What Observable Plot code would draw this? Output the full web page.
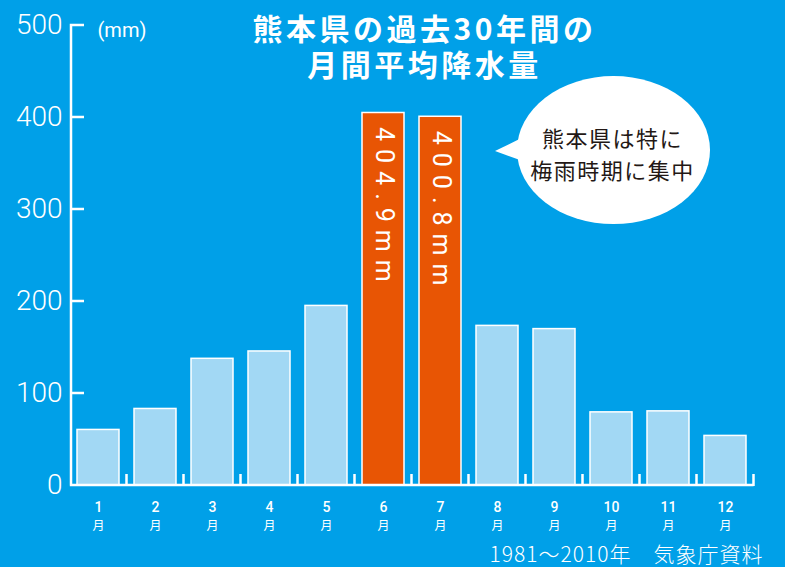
<!DOCTYPE html>
<html lang="ja">
<head>
<meta charset="utf-8">
<script src="https://cdn.jsdelivr.net/npm/d3@7"></script>
<script src="https://cdn.jsdelivr.net/npm/@observablehq/plot@0.6"></script>
<style>
  html, body { margin: 0; padding: 0; background: #00a0e8; }
  #chart { width: 785px; height: 567px; overflow: hidden; }
  g[aria-description="value-label"] text { letter-spacing: 8px; }
  g[aria-description="title"] text { letter-spacing: 3.5px; }
  g[aria-description="note"] text { letter-spacing: 1.5px; }
  g[aria-description="source"] text { letter-spacing: 1px; }
</style>
</head>
<body>
<div id="chart"></div>
<script>
// ---- data ----
const months = ["1", "2", "3", "4", "5", "6", "7", "8", "9", "10", "11", "12"];
const monthSuffix = "月";
const rainfall = [60.4, 83.2, 137.7, 145.7, 195.2, 404.9, 400.8, 173.5, 170.0, 79.5, 80.6, 53.9];
const highlightMonths = ["6", "7"];
const yTicks = [0, 100, 200, 300, 400, 500];
const unitLabel = "(mm)";
const titleLines = ["熊本県の過去30年間の", "月間平均降水量"];
const noteLines = ["熊本県は特に", "梅雨時期に集中"];
const noteMonth = "10";
const noteValue = 364;
const sourceText = "1981〜2010年　気象庁資料";

// ---- styles ----
const BG = "#00a0e8";
const LIGHT = "#a2d8f4";
const ORANGE = "#e85504";
const JP = "'Noto Sans CJK JP', 'Noto Sans', sans-serif";
const LATIN = "Roboto, 'Liberation Sans', sans-serif";

const data = months.map((m, i) => ({month: m, value: rainfall[i], hi: highlightMonths.includes(m)}));

const chart = Plot.plot({
  width: 785,
  height: 567,
  marginTop: 25,
  marginBottom: 82,
  marginLeft: 70,
  marginRight: 31,
  style: {background: BG, color: "white", fontFamily: LATIN, overflow: "visible"},
  x: {type: "band", domain: months, paddingInner: 0.26, paddingOuter: 0.13, axis: null},
  y: {domain: [0, 500], axis: null},
  marks: [
    Plot.barY(data.filter(d => !d.hi), {x: "month", y: "value", fill: LIGHT, stroke: "white", strokeWidth: 1.5}),
    Plot.barY(data.filter(d => d.hi), {x: "month", y: "value", fill: ORANGE, stroke: "white", strokeWidth: 1.5}),
    Plot.text(data.filter(d => d.hi), {
      x: "month", y: "value", text: d => d.value.toFixed(1) + "mm",
      rotate: 90, textAnchor: "start", lineAnchor: "middle", dy: 14, fontSize: 25, fill: "white",
      fontFamily: LATIN, ariaDescription: "value-label"
    }),
    // y tick labels
    Plot.text(yTicks, {y: d => d, text: d => String(d), frameAnchor: "left", textAnchor: "end",
      lineAnchor: "middle", dx: -8, fontSize: 28, fontWeight: 300, fill: "white", fontFamily: LATIN}),
    // unit label
    Plot.text([unitLabel], {frameAnchor: "top-left", textAnchor: "start", lineAnchor: "middle", dx: 27, dy: 5,
      fontSize: 20, fill: "white", fontFamily: LATIN}),
    // x labels
    Plot.text(months, {x: d => d, text: d => d, frameAnchor: "bottom", lineAnchor: "middle", dy: 22, fontSize: 14,
      fontWeight: 500, fill: "white", fontFamily: LATIN}),
    Plot.text(months, {x: d => d, text: () => monthSuffix, frameAnchor: "bottom", lineAnchor: "middle", dy: 40.5,
      fontSize: 12, fill: "white", fontFamily: JP}),
    // title
    Plot.text([titleLines.join("\n")], {frameAnchor: "top", lineAnchor: "middle", dx: 12, dy: 20.6, fontSize: 30,
      fontWeight: "bold", lineHeight: 1.2, fill: "white", fontFamily: JP, ariaDescription: "title"}),
    // note text (bubble drawn below it)
    Plot.text([noteLines.join("\n")], {x: () => noteMonth, y: () => noteValue, lineAnchor: "middle", dy: 2.6, dx: 1,
      fontSize: 22, lineHeight: 1.45, fill: "#231815", fontFamily: JP, ariaDescription: "note"}),
    // source
    Plot.text([sourceText], {frameAnchor: "bottom-right", textAnchor: "end", lineAnchor: "middle", dx: 9, dy: 70,
      fontSize: 21, fontWeight: 300, fill: "white", fontFamily: JP, ariaDescription: "source"})
  ]
});

document.getElementById("chart").appendChild(chart);

// ---- axis decorations and speech bubble, positioned via the plot's own scales ----
const X = chart.scale("x");
const Y = chart.scale("y");
const bw = X.bandwidth;
const gap = X.step - bw;
const left = X.apply(months[0]) - gap / 2 + 1.5;
const boundaries = months.map(m => X.apply(m) + bw + gap / 2);
const y0 = Y.apply(0);
const svg = d3.select(chart);

const axis = svg.append("g").attr("fill", "none").attr("stroke", "white").attr("stroke-width", 2.5);
let dPath = `M${left},${y0}V${Y.apply(yTicks[yTicks.length - 1])}H${left + 13}`;
yTicks.slice(1, -1).forEach(t => { dPath += `M${left},${Y.apply(t)}H${left + 13}`; });
dPath += `M${left - 1.2},${y0}H${boundaries[boundaries.length - 1]}`;
boundaries.forEach(b => { dPath += `M${b},${y0 + 1}V${y0 - 11}`; });
axis.append("path").attr("d", dPath);

const cx = X.apply(noteMonth) + bw / 2 + 2.5;
const cy = Y.apply(noteValue);
const noteNode = chart.querySelector('g[aria-description="note"]');
const bubbleNode = document.createElementNS("http://www.w3.org/2000/svg", "g");
if (noteNode) noteNode.parentNode.insertBefore(bubbleNode, noteNode); else chart.appendChild(bubbleNode);
const bubble = d3.select(bubbleNode).attr("fill", "white");
bubble.append("path").attr("d", `M${cx - 118.5},${cy + 1}L${cx - 90},${cy - 13}L${cx - 88},${cy + 12}Z`);
bubble.append("ellipse").attr("cx", cx).attr("cy", cy).attr("rx", 96.5).attr("ry", 74);
</script>
</body>
</html>
